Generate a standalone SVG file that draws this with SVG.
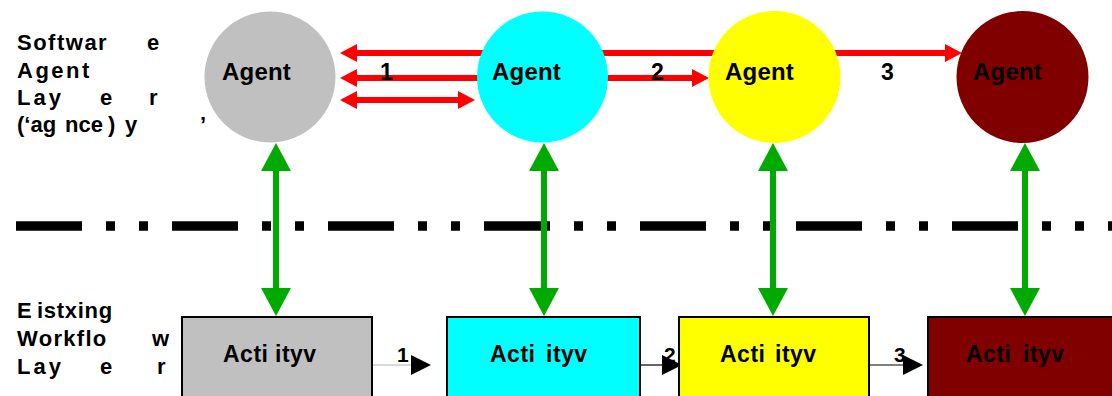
<svg xmlns="http://www.w3.org/2000/svg" width="1112" height="396" viewBox="0 0 1112 396">
  <style>
    text { font-family: "Liberation Sans", Arial, sans-serif; font-weight: bold; fill: #000; }
    .lbl { font-size: 22px; }
    .agent { font-size: 24px; letter-spacing: 0.2px; }
    .act { font-size: 23px; letter-spacing: 0.5px; }
    .red { stroke: #ff0000; stroke-width: 6; fill: none; }
    .green { stroke: #00aa00; stroke-width: 6; fill: none; }
    .flow { stroke: #000; stroke-width: 1.2; fill: none; }
    .box { stroke: #000; stroke-width: 2; }
  </style>
  <defs>
    <marker id="redHead" markerUnits="userSpaceOnUse" markerWidth="17" markerHeight="18" refX="0" refY="9" orient="auto-start-reverse">
      <path d="M0,0 L17,9 L0,18 Z" fill="#ff0000"/>
    </marker>
    <marker id="greenHead" markerUnits="userSpaceOnUse" markerWidth="28" markerHeight="30" refX="0" refY="15" orient="auto-start-reverse">
      <path d="M0,0 L28,15 L0,30 Z" fill="#00aa00"/>
    </marker>
    <marker id="blackHead" markerUnits="userSpaceOnUse" markerWidth="20" markerHeight="20" refX="0" refY="10" orient="auto">
      <path d="M0,0 L20,10 L0,20 Z" fill="#000"/>
    </marker>
  </defs>

  <rect width="1112" height="396" fill="#fff"/>

  <!-- layer captions -->
  <g id="caption-agent-layer" class="lbl">
    <text y="49.5"><tspan x="17" style="letter-spacing:1.5px">Softwar</tspan><tspan x="147">e</tspan></text>
    <text y="77.5" x="17" style="letter-spacing:2.5px">Agent</text>
    <text y="105"><tspan x="17" style="letter-spacing:3px">Lay</tspan><tspan x="100">e</tspan><tspan x="149">r</tspan></text>
    <text y="132"><tspan x="17">(‘ag</tspan><tspan x="65">nce</tspan><tspan x="108">)</tspan><tspan x="125">y</tspan><tspan x="200">’</tspan></text>
  </g>
  <g id="caption-workflow-layer" class="lbl">
    <text y="318"><tspan x="17">E</tspan><tspan x="37" style="letter-spacing:0.7px">istxing</tspan></text>
    <text y="346"><tspan x="17" style="letter-spacing:1.3px">Workflo</tspan><tspan x="152">w</tspan></text>
    <text y="374"><tspan x="17" style="letter-spacing:3px">Lay</tspan><tspan x="100">e</tspan><tspan x="157">r</tspan></text>
  </g>

  <!-- layer separator -->
  <line id="separator" x1="16" y1="226" x2="1112" y2="226" stroke="#000" stroke-width="9.5" stroke-dasharray="66 24 9 24 9 24"/>

  <g id="connectors">
    <!-- agent-to-agent messages -->
    <line class="red" x1="357" y1="53" x2="945" y2="53" marker-start="url(#redHead)" marker-end="url(#redHead)"/>
    <line class="red" x1="357" y1="78" x2="692" y2="78" marker-start="url(#redHead)" marker-end="url(#redHead)"/>
    <line class="red" x1="357" y1="100" x2="458" y2="100" marker-start="url(#redHead)" marker-end="url(#redHead)"/>
    <text style="font-size:23px" x="380" y="80">1</text>
    <text style="font-size:23px" x="651" y="80">2</text>
    <text style="font-size:23px" x="881" y="80">3</text>

    <!-- agent / activity links -->
    <line class="green" x1="276" y1="171" x2="276" y2="288" marker-start="url(#greenHead)" marker-end="url(#greenHead)"/>
    <line class="green" x1="544" y1="171" x2="544" y2="288" marker-start="url(#greenHead)" marker-end="url(#greenHead)"/>
    <line class="green" x1="773" y1="171" x2="773" y2="288" marker-start="url(#greenHead)" marker-end="url(#greenHead)"/>
    <line class="green" x1="1025" y1="171" x2="1025" y2="288" marker-start="url(#greenHead)" marker-end="url(#greenHead)"/>

    <!-- workflow sequence -->
    <line class="flow" x1="373" y1="365" x2="411" y2="365" style="stroke:#b4b4b4" marker-end="url(#blackHead)"/>
    <line class="flow" x1="641" y1="365" x2="662" y2="365" marker-end="url(#blackHead)"/>
    <line class="flow" x1="870" y1="365" x2="903" y2="365" marker-end="url(#blackHead)"/>
    <text style="font-size:21px" x="397" y="362">1</text>
    <text style="font-size:21px" x="664" y="362">2</text>
    <text style="font-size:21px" x="894" y="362">3</text>
  </g>

  <!-- software agents -->
  <g id="agent-1">
    <circle cx="270" cy="77" r="65.5" fill="#c0c0c0"/>
    <text class="agent" x="222" y="80">Agent</text>
  </g>
  <g id="agent-2">
    <circle cx="542.5" cy="77" r="65.5" fill="#00ffff"/>
    <text class="agent" x="492" y="80">Agent</text>
  </g>
  <g id="agent-3">
    <circle cx="774.5" cy="77" r="66" fill="#ffff00"/>
    <text class="agent" x="725" y="80">Agent</text>
  </g>
  <g id="agent-4">
    <circle cx="1022.5" cy="77" r="66" fill="#800000"/>
    <text class="agent" x="973" y="80">Agent</text>
  </g>

  <!-- workflow activities -->
  <g id="activity-1">
    <rect class="box" x="182" y="317" width="190" height="100" fill="#c0c0c0"/>
    <text class="act" y="362"><tspan x="223">Acti</tspan><tspan x="275">ityv</tspan></text>
  </g>
  <g id="activity-2">
    <rect class="box" x="447" y="317" width="193" height="100" fill="#00ffff"/>
    <text class="act" y="362"><tspan x="490">Acti</tspan><tspan x="546">ityv</tspan></text>
  </g>
  <g id="activity-3">
    <rect class="box" x="679" y="317" width="190" height="100" fill="#ffff00"/>
    <text class="act" y="362"><tspan x="720">Acti</tspan><tspan x="775">ityv</tspan></text>
  </g>
  <g id="activity-4">
    <rect class="box" x="928" y="317" width="200" height="100" fill="#800000"/>
    <text class="act" y="362"><tspan x="966">Acti</tspan><tspan x="1023">ityv</tspan></text>
  </g>
</svg>
